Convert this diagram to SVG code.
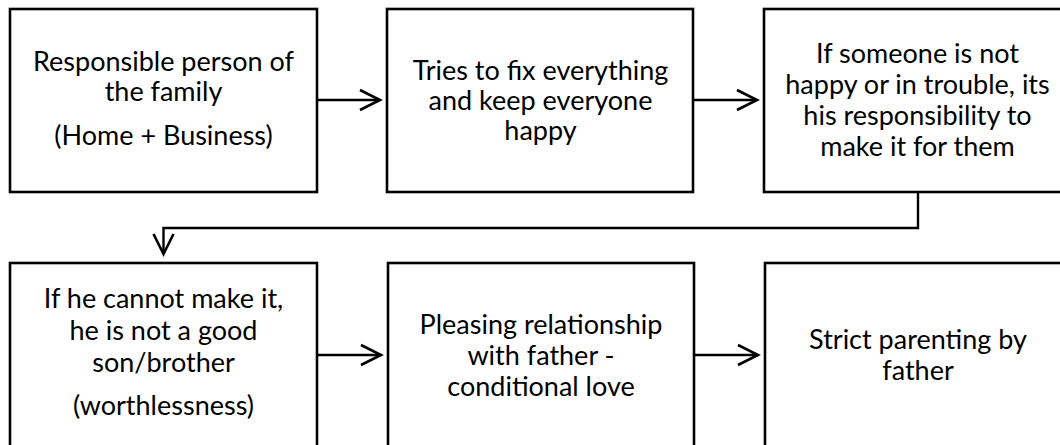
<svg xmlns="http://www.w3.org/2000/svg" width="1060" height="445" viewBox="0 0 1060 445">
<style>
.box{fill:#fff;stroke:#000;stroke-width:2.6}
.t{font-family:Lato,"Liberation Sans",sans-serif;font-size:27px;fill:#000;text-anchor:middle}
.c{fill:none;stroke:#000;stroke-width:2.4}
</style>
<defs>
<marker id="ah" viewBox="-24 -13 27 26" markerUnits="userSpaceOnUse" markerWidth="27" markerHeight="26" refX="0" refY="0" orient="auto">
<path d="M-20,-10 L0,0 L-20,10" fill="none" stroke="#000" stroke-width="2.6"/>
</marker>
</defs>
<rect width="1060" height="445" fill="#fff"/>
<g id="n1"><rect class="box" x="10" y="9" width="307" height="183"/>
<text class="t" x="163.5" y="71">Responsible person of</text>
<text class="t" x="163.5" y="101">the family</text>
<text class="t" x="163.5" y="145">(Home + Business)</text></g>
<g id="n2"><rect class="box" x="387" y="9" width="306" height="183"/>
<text class="t" x="540.5" y="80">Tries to fix everything</text>
<text class="t" x="540.5" y="110">and keep everyone</text>
<text class="t" x="540.5" y="140">happy</text></g>
<g id="n3"><rect class="box" x="764" y="9" width="307" height="183"/>
<text class="t" x="917.5" y="63">If someone is not</text>
<text class="t" x="917.5" y="94">happy or in trouble, its</text>
<text class="t" x="917.5" y="125">his responsibility to</text>
<text class="t" x="917.5" y="156">make it for them</text></g>
<g id="n4"><rect class="box" x="10" y="263" width="307" height="184"/>
<text class="t" x="163.5" y="308">If he cannot make it,</text>
<text class="t" x="163.5" y="340">he is not a good</text>
<text class="t" x="163.5" y="372">son/brother</text>
<text class="t" x="163.5" y="415">(worthlessness)</text></g>
<g id="n5"><rect class="box" x="388" y="263" width="306" height="184"/>
<text class="t" x="541" y="334">Pleasing relationship</text>
<text class="t" x="541" y="365">with father -</text>
<text class="t" x="541" y="396">conditional love</text></g>
<g id="n6"><rect class="box" x="765" y="263" width="307" height="184"/>
<text class="t" x="918" y="349">Strict parenting by</text>
<text class="t" x="918" y="380">father</text></g>
<g id="connectors">
<path class="c" d="M317,100 H380" marker-end="url(#ah)"/>
<path class="c" d="M693,100 H757" marker-end="url(#ah)"/>
<path class="c" d="M918,192 V228 H163.5 V254" marker-end="url(#ah)"/>
<path class="c" d="M317,355 H381" marker-end="url(#ah)"/>
<path class="c" d="M694,355 H758" marker-end="url(#ah)"/>
</g>
</svg>
